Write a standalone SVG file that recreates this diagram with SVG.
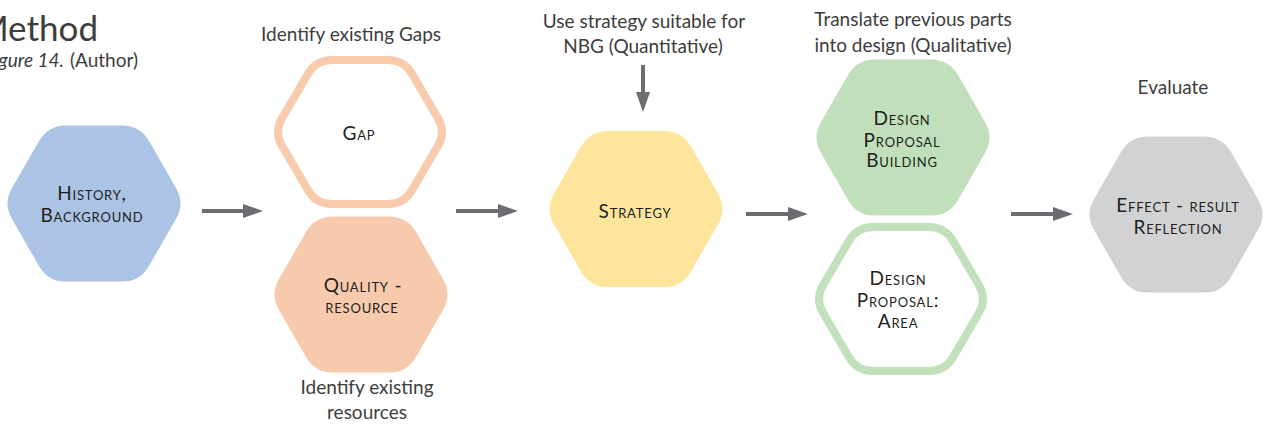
<svg xmlns="http://www.w3.org/2000/svg" width="1263" height="425" viewBox="0 0 1263 425">
<style>
.note{font-family:Lato,"Liberation Sans",sans-serif;font-size:19px;fill:#3d3d3d;text-anchor:middle}
.lbl{font-family:Lato,"Liberation Sans",sans-serif;font-size:19px;font-variant:small-caps;letter-spacing:0.8px;fill:#231f20;text-anchor:middle}
.conn{stroke:#6c6d70;stroke-width:4;fill:none}
.out{fill:#ffffff;stroke-width:8}
</style>
<defs>
<marker id="ah" markerUnits="userSpaceOnUse" markerWidth="21" markerHeight="14" refX="8" refY="7" orient="auto">
<path d="M0,0 L20,7 L0,14 Z" fill="#6c6d70"/>
</marker>
<path id="hf" d="M -28,-78 L 28,-78 Q 46,-78 55,-62.4 L 82,-15.6 Q 91,0 82,15.6 L 55,62.4 Q 46,78 28,78 L -28,78 Q -46,78 -55,62.4 L -82,15.6 Q -91,0 -82,-15.6 L -55,-62.4 Q -46,-78 -28,-78 Z"/>
<path id="ho" d="M -28,-72 L 28,-72 Q 44,-72 52,-58.2 L 78,-13.8 Q 86,0 78,13.8 L 52,58.2 Q 44,72 28,72 L -28,72 Q -44,72 -52,58.2 L -78,13.8 Q -86,0 -78,-13.8 L -52,-58.2 Q -44,-72 -28,-72 Z"/>
</defs>
<rect width="1263" height="425" fill="#ffffff"/>

<g id="title">
<text x="98" y="41" font-family="Lato,'Liberation Sans',sans-serif" font-size="35" fill="#3d3d3d" text-anchor="end">Method</text>
<text x="64" y="67" font-family="Lato,'Liberation Sans',sans-serif" font-size="19" font-style="italic" fill="#3d3d3d" text-anchor="end">Figure 14.</text>
<text x="70" y="67" font-family="Lato,'Liberation Sans',sans-serif" font-size="19" fill="#3d3d3d">(Author)</text>
</g>

<g id="notes">
<text class="note" x="351" y="41">Identify existing Gaps</text>
<text class="note" x="367" y="394">Identify existing</text>
<text class="note" x="367" y="419">resources</text>
<text class="note" x="644" y="28">Use strategy suitable for</text>
<text class="note" x="643" y="53">NBG (Quantitative)</text>
<text class="note" x="913" y="26">Translate previous parts</text>
<text class="note" x="913" y="52">into design (Qualitative)</text>
<text class="note" x="1173" y="94">Evaluate</text>
</g>

<g id="history">
<use href="#hf" transform="translate(94,203.5)" fill="#abc3e4"/>
<text class="lbl" x="92" y="200">History,</text>
<text class="lbl" x="92" y="222">Background</text>
</g>

<g id="gap">
<use href="#ho" transform="translate(360,132)" class="out" stroke="#f8cbad"/>
<text class="lbl" x="359" y="140">Gap</text>
</g>

<g id="quality">
<use href="#hf" transform="translate(361,294.5)" fill="#f8caad"/>
<text class="lbl" x="363" y="292">Quality -</text>
<text class="lbl" x="362" y="313">resource</text>
</g>

<g id="strategy">
<use href="#hf" transform="translate(636,209)" fill="#fde69b"/>
<text class="lbl" x="635" y="218">Strategy</text>
</g>

<g id="design-building">
<use href="#hf" transform="translate(903,137.5)" fill="#c1dfbb"/>
<text class="lbl" x="902" y="125">Design</text>
<text class="lbl" x="902" y="147">Proposal</text>
<text class="lbl" x="902" y="167">Building</text>
</g>

<g id="design-area">
<use href="#ho" transform="translate(901,299)" class="out" stroke="#c2e0bb"/>
<text class="lbl" x="898" y="285">Design</text>
<text class="lbl" x="898" y="307">Proposal:</text>
<text class="lbl" x="898" y="328">Area</text>
</g>

<g id="effect">
<use href="#hf" transform="translate(1176,214.5)" fill="#d1d2d4"/>
<text class="lbl" x="1178" y="212">Effect - result</text>
<text class="lbl" x="1178" y="234">Reflection</text>
</g>

<g id="connectors">
<line class="conn" x1="202" y1="211" x2="251" y2="211" marker-end="url(#ah)"/>
<line class="conn" x1="456" y1="211" x2="506" y2="211" marker-end="url(#ah)"/>
<line class="conn" x1="746" y1="214" x2="796" y2="214" marker-end="url(#ah)"/>
<line class="conn" x1="1011" y1="214" x2="1061" y2="214" marker-end="url(#ah)"/>
<line class="conn" x1="643" y1="65" x2="643" y2="100" marker-end="url(#ah)"/>
</g>
</svg>
